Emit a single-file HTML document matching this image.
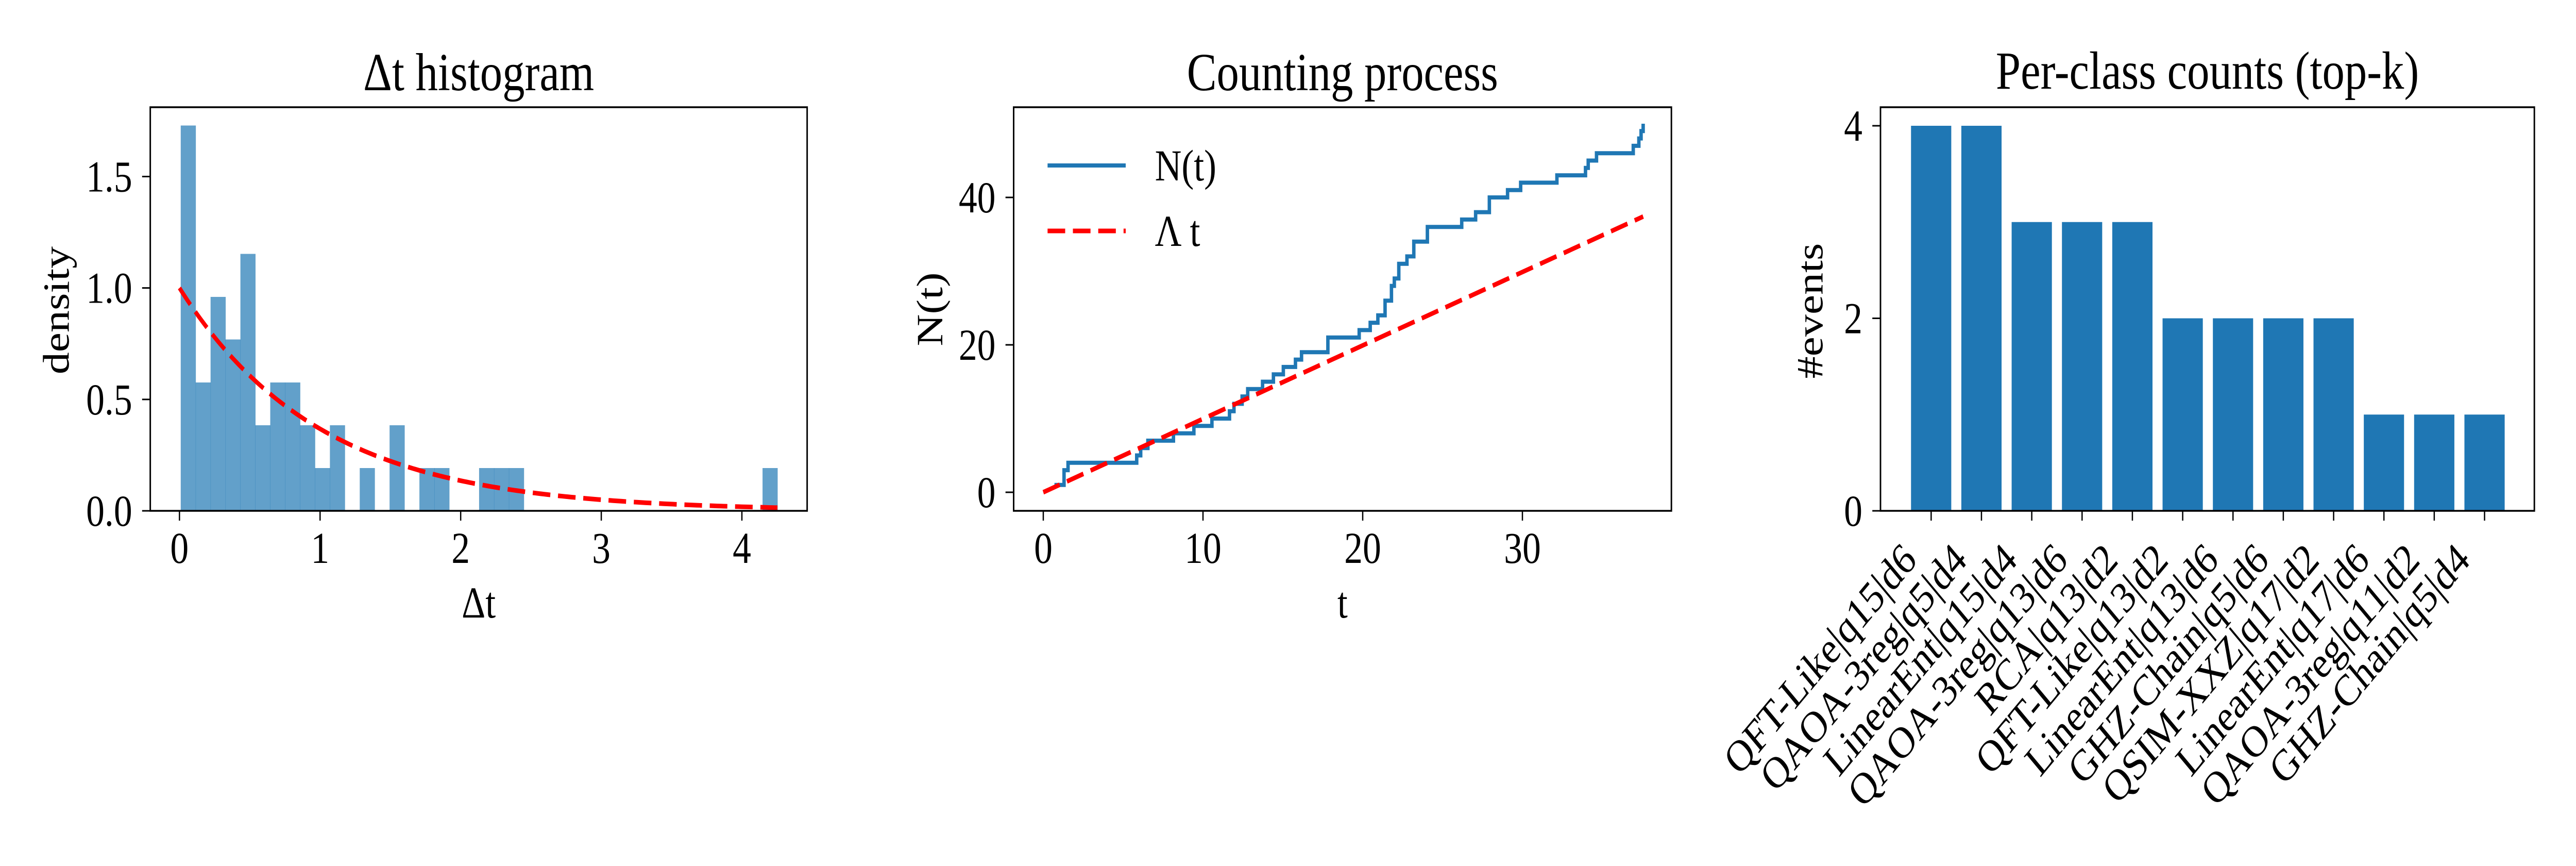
<!DOCTYPE html>
<html><head><meta charset="utf-8"><style>
html,body{margin:0;padding:0;background:#fff;overflow:hidden;width:100%;height:100%;}
svg{display:block;width:100vw;height:100vh;font-family:"Liberation Serif","DejaVu Serif",serif;}
</style></head><body>
<svg id="fig" viewBox="0 0 6000 1680" preserveAspectRatio="none"></svg>
<script>
// ---------- Panel 1 data ----------
const histStart = 0.009;
const histBinWidth = 0.1061;
const histDensity = [1.729,0.576,0.96,0.769,1.153,0.384,0.576,0.576,0.384,0.192,0.384,0,0.192,0,0.384,0,0.192,0.192,0,0,0.192,0.192,0.192,0,0,0,0,0,0,0,0,0,0,0,0,0,0,0,0,0.192];
const histRate = [1.0];
const histXTicks = [0,1,2,3,4];
const histYTicks = [0.0,0.5,1.0,1.5];
const histYTickLabels = ["0.0","0.5","1.0","1.5"];
// ---------- Panel 2 data ----------
const stepTimes = [0.7,1.3,1.55,5.85,6.1,6.55,8.15,9.43,10.56,11.66,11.94,12.45,12.8,13.73,14.41,15.03,15.79,16.17,17.82,19.78,20.47,20.95,21.4,21.8,21.98,22.26,22.77,23.2,24.05,26.2,27.07,27.93,29.07,29.89,32.16,33.95,34.12,34.64,36.94,37.29,37.43,37.56];
const stepCounts = [1,3,4,5,6,7,8,9,10,11,12,13,14,15,16,17,18,19,21,22,23,24,26,28,29,31,32,34,36,37,38,40,41,42,43,44,45,46,47,48,49,50];
const lambdaRate = [0.996];
const countXTicks = [0,10,20,30];
const countYTicks = [0,20,40];
// ---------- Panel 3 data ----------
const classNames = ["QFT-Like|q15|d6","QAOA-3reg|q5|d4","LinearEnt|q15|d4","QAOA-3reg|q13|d6","RCA|q13|d2","QFT-Like|q13|d2","LinearEnt|q13|d6","GHZ-Chain|q5|d6","QSIM-XXZ|q17|d2","LinearEnt|q17|d6","QAOA-3reg|q11|d2","GHZ-Chain|q5|d4"];
const classCounts = [4,4,3,3,3,2,2,2,2,1,1,1];
const classYTicks = [0,2,4];

const svg = document.getElementById('fig');
const NS = 'http://www.w3.org/2000/svg';
const FONT = '"Liberation Serif","DejaVu Serif",serif';
function mk(tag, attrs, parent){
  const e = document.createElementNS(NS, tag);
  for (const k in attrs) e.setAttribute(k, attrs[k]);
  (parent||svg).appendChild(e);
  return e;
}
function txt(s, attrs, parent){ attrs['font-family']=FONT; const e = mk('text', attrs, parent); e.textContent = s; return e; }
function lin(d0,d1,r0,r1){ return v => r0 + (v-d0)/(d1-d0)*(r1-r0); }

function axesFrame(g, L, R, T, B){
  const f = mk('rect',{x:L,y:T,width:R-L,height:B-T,fill:'none',stroke:'#000','stroke-width':3.5},g);
  
  
}
function xTicks(g, ticks, labels, sx, B){
  ticks.forEach((t,i)=>{
    const x = sx(t);
    const l = mk('line',{x1:x,x2:x,y1:B,y2:B+19,stroke:'#000','stroke-width':3},g);
    
    
    const tl = txt(labels[i],{x:x,y:1092,'font-size':86,'text-anchor':'middle'},g);
    
    
  });
}
function yTicks(g, ticks, labels, sy, L){
  ticks.forEach((t,i)=>{
    const y = sy(t);
    const l = mk('line',{x1:L-19,x2:L,y1:y,y2:y,stroke:'#000','stroke-width':3},g);
    
    
    const tl = txt(labels[i],{x:L-42,y:y+29,'font-size':86,'text-anchor':'end'},g);
    
    
  });
}

// ===== Panel 1 =====
(function(){
  const g = mk('g',{});
  
  
  const L=350,R=1880,T=208,B=991;
  const sx = lin(0,4,418,1728), sy = lin(0,1.5,991,342.5);
  histDensity.forEach((d,i)=>{
    if (d<=0) return;
    const x0 = sx(histStart+i*histBinWidth), x1 = sx(histStart+(i+1)*histBinWidth);
    const r = mk('rect',{x:x0,y:sy(d),width:x1-x0+0.5,height:sy(0)-sy(d),fill:'#1f77b4','fill-opacity':0.7},g);
    
    
  });
  const lam = histRate[0];
  const xmax = histStart + histDensity.length*histBinWidth;
  let pts=[];
  for(let k=0;k<=200;k++){ const x = xmax*k/200; pts.push(sx(x)+','+sy(lam*Math.exp(-lam*x))); }
  const pl = mk('polyline',{points:pts.join(' '),fill:'none',stroke:'#ff0000','stroke-width':9,'stroke-dasharray':'41,18'},g);
  
  
  axesFrame(g,L,R,T,B);
  xTicks(g,histXTicks,histXTicks.map(String),sx,B);
  yTicks(g,histYTicks,histYTickLabels,sy,L);
  const t = txt('Δt histogram',{x:(L+R)/2,y:175,'font-size':104,'text-anchor':'middle'},g);
  
  
  const xl = txt('Δt',{x:(L+R)/2,y:1198,'font-size':86,'text-anchor':'middle'},g);
  
  
  const yl = txt('density',{x:0,y:0,'font-size':86,'text-anchor':'middle',transform:'translate(160,602) rotate(-90)'},g);
  
  
})();

// ===== Panel 2 =====
(function(){
  const g = mk('g',{});
  
  
  const L=2361,R=3893,T=208,B=991;
  const sx = lin(0,30,2430,3546), sy = lin(0,40,955,383);
  let d = 'M'+sx(stepTimes[0])+','+sy(stepCounts[0]);
  for(let i=1;i<stepTimes.length;i++){
    d += ' H'+sx(stepTimes[i])+' V'+sy(stepCounts[i]);
  }
  const p = mk('path',{d:d,fill:'none',stroke:'#1f77b4','stroke-width':8},g);
  
  
  const tEnd = stepTimes[stepTimes.length-1];
  const ll = mk('line',{x1:sx(0),y1:sy(0),x2:sx(tEnd),y2:sy(lambdaRate[0]*tEnd),stroke:'#ff0000','stroke-width':9,'stroke-dasharray':'41,18'},g);
  
  
  axesFrame(g,L,R,T,B);
  xTicks(g,countXTicks,countXTicks.map(String),sx,B);
  yTicks(g,countYTicks,countYTicks.map(String),sy,L);
  const lg = mk('g',{},g);
  
  
  const l1 = mk('line',{x1:2440,x2:2622,y1:321,y2:321,stroke:'#1f77b4','stroke-width':8},lg);
  
  
  const t1 = txt('N(t)',{x:2690,y:350,'font-size':86},lg);
  
  
  const l2 = mk('line',{x1:2440,x2:2622,y1:448,y2:448,stroke:'#ff0000','stroke-width':9,'stroke-dasharray':'41,18'},lg);
  
  
  const t2 = txt('Λ t',{x:2690,y:477,'font-size':86},lg);
  
  
  const t = txt('Counting process',{x:(L+R)/2,y:175,'font-size':104,'text-anchor':'middle'},g);
  
  
  const xl = txt('t',{x:(L+R)/2,y:1198,'font-size':86,'text-anchor':'middle'},g);
  
  
  const yl = txt('N(t)',{x:0,y:0,'font-size':86,'text-anchor':'middle',transform:'translate(2195,600) rotate(-90)'},g);
  
  
})();

// ===== Panel 3 =====
(function(){
  const g = mk('g',{});
  
  
  const L=4380,R=5903,T=208,B=991;
  const sx = lin(0,11,4498,5787), sy = lin(0,4,991,244);
  const bw = 0.8*(sx(1)-sx(0));
  classCounts.forEach((c,i)=>{
    const r = mk('rect',{x:sx(i)-bw/2,y:sy(c),width:bw,height:sy(0)-sy(c),fill:'#1f77b4'},g);
    
    
  });
  axesFrame(g,L,R,T,B);
  classNames.forEach((n,i)=>{
    const x = sx(i);
    const l = mk('line',{x1:x,x2:x,y1:B,y2:B+19,stroke:'#000','stroke-width':3},g);
    
    
    const tl = txt(n,{x:0,y:0,'font-size':86,'text-anchor':'end',transform:'translate('+(x-30)+',1090) rotate(-45)'},g);
    
    
  });
  yTicks(g,classYTicks,classYTicks.map(String),sy,L);
  const t = txt('Per-class counts (top-k)',{x:(L+R)/2,y:172,'font-size':104,'text-anchor':'middle'},g);
  
  
  const yl = txt('#events',{x:0,y:0,'font-size':86,'text-anchor':'middle',transform:'translate(4245,603) rotate(-90)'},g);
  
  
})();
</script>
</body></html>
